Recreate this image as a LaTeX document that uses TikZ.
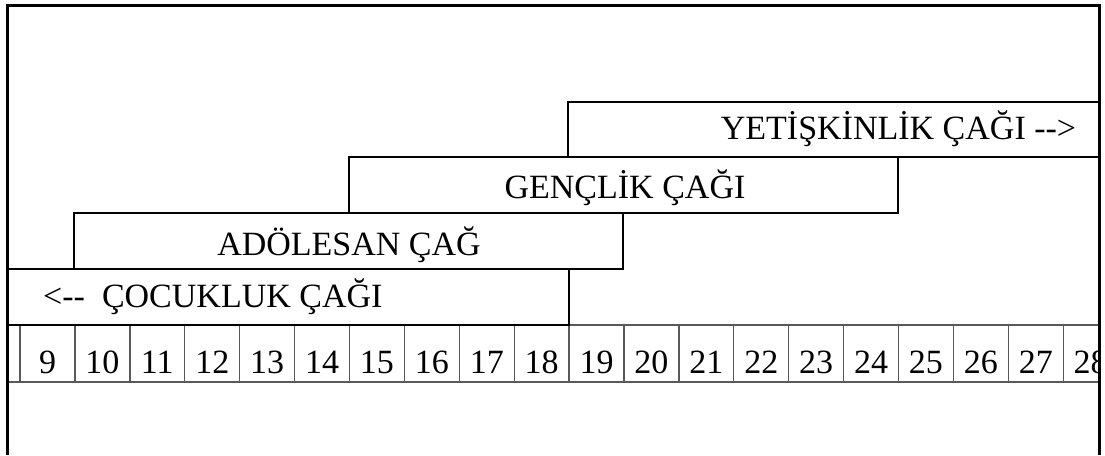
\documentclass[tikz,border=0pt]{standalone}
\usepackage{fontspec}
\setmainfont{Liberation Serif}
\begin{document}
\begin{tikzpicture}[x=1pt,y=-1pt,
  agebox/.style={draw=black, line width=2pt, rectangle, inner sep=0pt, outer sep=0pt, anchor=north west},
  cell/.style={draw=black!65, line width=1.3pt, rectangle, minimum width=54.9pt, minimum height=57pt, inner sep=0pt, outer sep=0pt},
  lbl/.style={font=\fontsize{34}{40}\selectfont, inner sep=0pt, anchor=base},
  frame/.style={draw=black, line width=2.2pt}
]
\useasboundingbox (0,0) rectangle (1105,455);
% number row
\begin{scope}
  \clip (7.5,0) rectangle (1099.5,455);
  \node[cell] (c8) at ({75-2*54.9+27.45},353.5) {};
  \foreach \n in {9,...,28} {
    \node[cell] (c\n) at ({75+54.9*(\n-10)+27.45},353.5) {};
    \node[lbl] (t\n) at ([yshift=-19.5pt]c\n.center) {\n};
  }
\end{scope}
% age boxes
\node[agebox, minimum width=531.5pt, minimum height=55pt] (yet) at (568,102) {};
\node[agebox, minimum width=549pt, minimum height=56pt] (gen) at (348.5,157) {};
\node[agebox, minimum width=549pt, minimum height=56pt] (ado) at (74,213) {};
\node[agebox, minimum width=561pt, minimum height=56pt] (coc) at (7.5,269) {};
% labels
\node[lbl] (tyet) at (898.5,139) {YETİŞKİNLİK ÇAĞI -{}->};
\node[lbl] (tgen) at (625,198) {GENÇLİK ÇAĞI};
\node[lbl] (tado) at (349,255) {ADÖLESAN ÇAĞ};
\node[lbl, anchor=base west] (tcoc) at (43,307) {<-{}-\ \ ÇOCUKLUK ÇAĞI};
% outer frame
\draw[frame] (7.5,455) -- (7.5,5.5) -- (1099.5,5.5) -- (1099.5,455);
\end{tikzpicture}
\end{document}
